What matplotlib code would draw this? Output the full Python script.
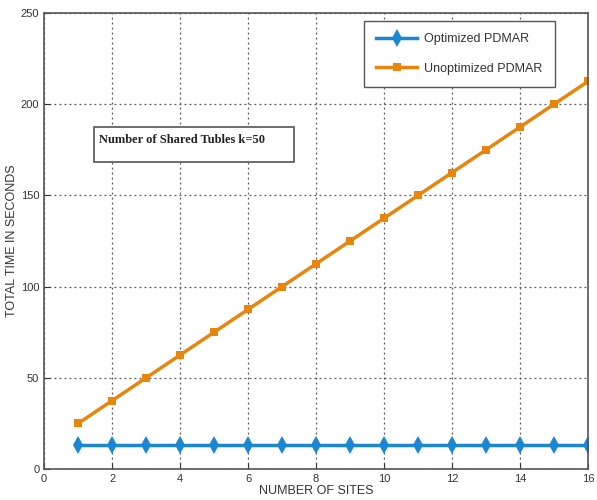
import matplotlib
matplotlib.use("Agg")
import matplotlib.pyplot as plt
from matplotlib.patches import Rectangle

sites = list(range(1, 17))
optimized = [13] * 16
unoptimized = [25, 37.5, 50, 62.5, 75, 87.5, 100, 112.5, 125, 137.5, 150, 162.5, 175, 187.5, 200, 212.5]
xticks = [0, 2, 4, 6, 8, 10, 12, 14, 16]
yticks = [0, 50, 100, 150, 200, 250]

plt.rcParams['font.family'] = ['Liberation Sans', 'DejaVu Sans']
fig = plt.figure(figsize=(5.97, 5.0), dpi=100)
ax = fig.add_axes([0.074, 0.062, 0.911, 0.912])

ax.plot(sites, optimized, color='#1A87D0', lw=2.5, marker='d', ms=9, mew=0, label='Optimized PDMAR')
ax.plot(sites, unoptimized, color='#E8850C', lw=2.5, marker='s', ms=6, mew=0, label='Unoptimized PDMAR')

ax.set_xlim(0, 16)
ax.set_ylim(0, 250)
ax.set_xticks(xticks)
ax.set_yticks(yticks)
ax.tick_params(labelsize=8, direction='in', length=4, colors='#333333')
ax.grid(True, linestyle=(0, (1.5, 2.5)), color='#555555', lw=0.9)
for s in ax.spines.values():
    s.set_color('#555555')
    s.set_linewidth(1.2)
ax.set_xlabel('NUMBER OF SITES', fontsize=9, labelpad=1, color='#333333')
ax.set_ylabel('TOTAL TIME IN SECONDS', fontsize=9, labelpad=2, color='#333333')

leg = ax.legend(loc='upper right', bbox_to_anchor=(0.95, 0.997), fontsize=9, frameon=True,
                fancybox=False, edgecolor='#555555', borderpad=1.0, labelspacing=1.4,
                handlelength=3.3, handletextpad=0.5, framealpha=1)
leg.get_frame().set_linewidth(1.0)
for t in leg.get_texts():
    t.set_color('#333333')

ax.add_patch(Rectangle((0.092, 0.673), 0.367, 0.077, transform=ax.transAxes,
                       fill=True, fc='white', ec='#555555', lw=1.2, zorder=5))
ax.text(0.101, 0.722, 'Number of Shared Tubles k=50', transform=ax.transAxes,
        fontsize=9, fontweight='bold', family=['Liberation Serif'], va='center', ha='left',
        color='#222222', zorder=6)

fig.savefig('out.png', dpi=100)
